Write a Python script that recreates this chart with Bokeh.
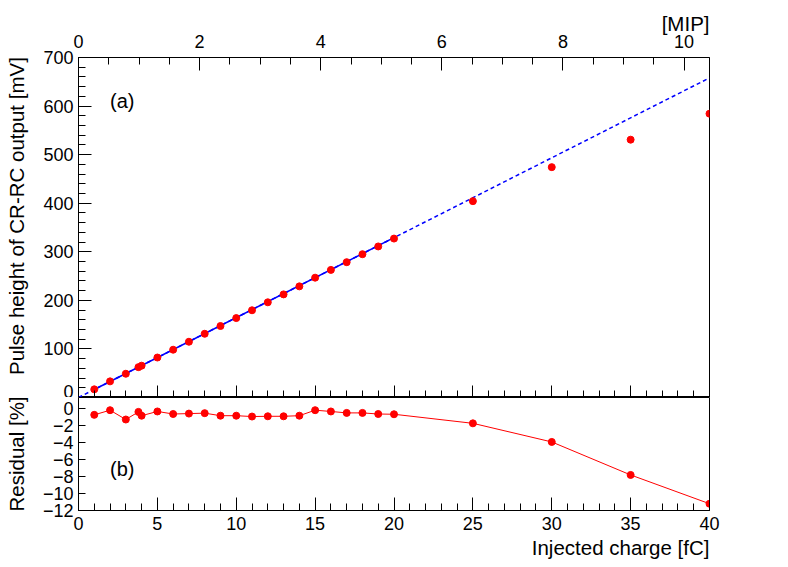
from bokeh.plotting import figure
from bokeh.models import Range1d, LinearAxis, SingleIntervalTicker, FixedTicker, Label, Title
from bokeh.layouts import column
from bokeh.embed import file_html
from bokeh.resources import INLINE

# ---- data ----
charge_fc = [1, 2, 3, 3.8, 4, 5, 6, 7, 8, 9, 10, 11, 12, 13, 14, 15, 16, 17, 18, 19, 20,
             25, 30, 35, 40]
pulse_mv = [16.8, 33.2, 48.9, 62.5, 65.5, 82.3, 98.4, 114.8, 131.2, 147.2, 163.5, 179.6,
            196.0, 212.3, 228.8, 246.7, 262.7, 278.6, 295.0, 311.0, 327.2,
            404.3, 474.3, 530.8, 584.3]
residual_pct = [-0.7, -0.15, -1.25, -0.35, -0.8, -0.3, -0.6, -0.55, -0.5, -0.8, -0.8, -0.9,
                -0.87, -0.87, -0.8, -0.15, -0.3, -0.47, -0.47, -0.6, -0.63,
                -1.7, -3.9, -7.8, -11.2]
fit_full_x = [0, 40]
fit_full_y = [0.0, 658.0]
fit_used_x = [1, 20]
fit_used_y = [16.45, 329.0]
mip_max = 10.42
charge_ticks = [0, 5, 10, 15, 20, 25, 30, 35, 40]
res_ticks = [0, -2, -4, -6, -8, -10, -12]

FONT = "Liberation Sans"
NB = "\u00a0"


def style_axis(ax, tick_in, minor_in, size="18px", standoff=5):
    ax.axis_line_color = "black"
    ax.axis_line_width = 1
    ax.major_tick_in = tick_in
    ax.major_tick_out = 0
    ax.minor_tick_in = minor_in
    ax.minor_tick_out = 0
    ax.major_tick_line_color = "black"
    ax.minor_tick_line_color = "black" if minor_in > 0 else None
    ax.major_label_text_font = FONT
    ax.major_label_text_font_size = size
    ax.major_label_text_color = "black"
    ax.major_label_standoff = standoff
    ax.axis_label_text_font = FONT
    ax.axis_label_text_font_style = "normal"
    ax.axis_label_text_color = "black"
    ax.axis_label_text_font_size = "20.5px"


# ---- top panel ----
p1 = figure(width=780, height=397, x_range=Range1d(0, 40), y_range=Range1d(0, 700),
            output_backend="svg", toolbar_location=None,
            min_border_left=78, min_border_right=71, min_border_top=57, min_border_bottom=0)
p1.xgrid.visible = False
p1.ygrid.visible = False
p1.outline_line_color = "black"
p1.background_fill_color = "white"
p1.border_fill_color = "white"

p1.extra_x_ranges = {"mip": Range1d(0, mip_max)}
mip_axis = LinearAxis(x_range_name="mip", ticker=SingleIntervalTicker(interval=2, num_minor_ticks=4))
p1.add_layout(mip_axis, "above")
style_axis(mip_axis, 13, 7, standoff=10)
p1.add_layout(Title(text="[MIP]", align="right", text_font=FONT, text_font_size="20.5px",
                    text_font_style="normal", text_color="black", standoff=-6), "above")

bx = p1.below[0]
bx.ticker = SingleIntervalTicker(interval=5, num_minor_ticks=5)
style_axis(bx, 12, 7, size="0px", standoff=0)
bx.major_label_overrides = {t: "" for t in charge_ticks}

ly = p1.left[0]
ly.ticker = SingleIntervalTicker(interval=100, num_minor_ticks=5)
style_axis(ly, 13, 7, standoff=5)
ly.axis_label = NB * 4 + "Pulse height of CR-RC output [mV]"
ly.axis_label_standoff = 12

p1.line(fit_full_x, fit_full_y, line_color="#0000ff", line_width=1.5, line_dash="4 3")
p1.line(fit_used_x, fit_used_y, line_color="#0000ff", line_width=1.5)
p1.scatter(charge_fc, pulse_mv, size=7, color="#ff0000")

p1.add_layout(Label(x=2.0, y=611, text="(a)", text_align="left", text_baseline="middle",
                    text_font=FONT, text_font_size="20px", text_color="black"))

# ---- bottom panel ----
p2 = figure(width=780, height=167, x_range=p1.x_range, y_range=Range1d(-12, 1.35),
            output_backend="svg", toolbar_location=None,
            min_border_left=78, min_border_right=71, min_border_top=0, min_border_bottom=54)
p2.xgrid.visible = False
p2.ygrid.visible = False
p2.outline_line_color = "black"
p2.background_fill_color = "white"
p2.border_fill_color = "white"

bx2 = p2.below[0]
bx2.ticker = SingleIntervalTicker(interval=5, num_minor_ticks=5)
style_axis(bx2, 13, 7, standoff=6)
p2.add_layout(Title(text="Injected charge [fC]", align="right", text_font=FONT,
                    text_font_size="20.5px", text_font_style="normal", text_color="black",
                    standoff=2), "below")

ly2 = p2.left[0]
ly2.ticker = FixedTicker(ticks=res_ticks, minor_ticks=[])
style_axis(ly2, 7, 0, standoff=5)
ly2.major_label_overrides = {t: ("\u2212" + str(-t) if t < 0 else str(t)) for t in res_ticks}
ly2.axis_label = "Residual [%]"
ly2.axis_label_standoff = 12

p2.line(charge_fc, residual_pct, line_color="#ff0000", line_width=1)
p2.scatter(charge_fc, residual_pct, size=7, color="#ff0000")

p2.add_layout(Label(x=2.0, y=-7.1, text="(b)", text_align="left", text_baseline="middle",
                    text_font=FONT, text_font_size="20px", text_color="black"))

layout = column(p1, p2, spacing=0)
open("out.html", "w").write(file_html(layout, INLINE))
